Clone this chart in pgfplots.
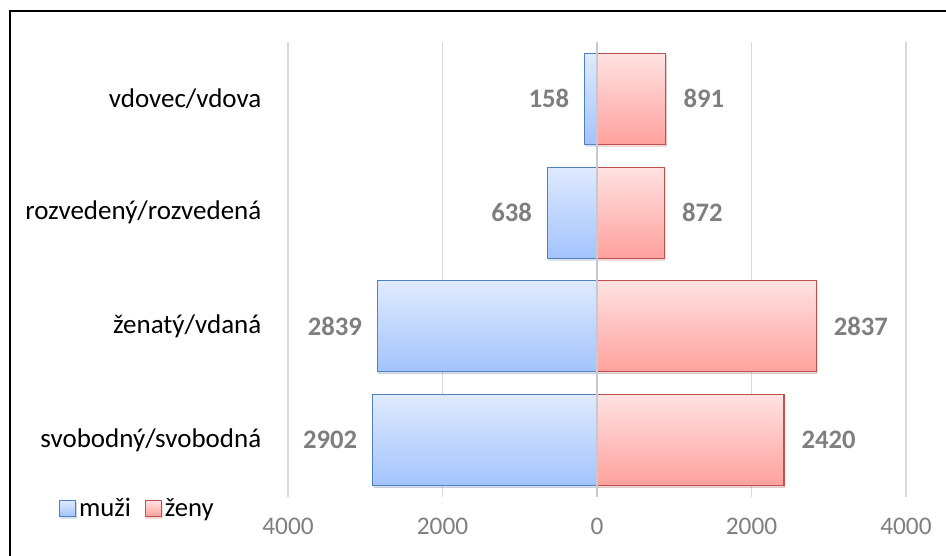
\documentclass[border=0pt]{standalone}
\usepackage{pgfplots}
\pgfplotsset{compat=1.18}
\usetikzlibrary{shadows}
\usepackage{fontspec}
\setmainfont{Carlito}
\definecolor{blueedge}{HTML}{4F81BD}
\definecolor{bluetop}{HTML}{DFEAFE}
\definecolor{bluebot}{HTML}{A3C3FD}
\definecolor{rededge}{HTML}{C0504D}
\definecolor{redtop}{HTML}{FFE2E2}
\definecolor{redbot}{HTML}{FFA19D}
\definecolor{lblgray}{HTML}{7F7F7F}
\definecolor{gridgray}{HTML}{D9D9D9}
\definecolor{zeroline}{HTML}{C4CAD4}
\newcommand{\catfont}{\fontsize{20.25}{24}\selectfont}
\newcommand{\datfont}{\fontsize{20}{24}\selectfont}
\newcommand{\tckfont}{\fontsize{19}{23}\selectfont}
\pgfplotsset{
  mbar/.style={draw=blueedge, line width=0.9pt, top color=bluetop, bottom color=bluebot,
    drop shadow={shadow xshift=0.6pt, shadow yshift=-1.5pt, opacity=0.15, fill=black!70},
    every node near coord/.append style={anchor=east, xshift=-8pt}},
  wbar/.style={draw=rededge, line width=0.9pt, top color=redtop, bottom color=redbot,
    drop shadow={shadow xshift=0.6pt, shadow yshift=-1.5pt, opacity=0.15, fill=black!70},
    every node near coord/.append style={anchor=west, xshift=9.5pt}},
}
\begin{document}
\begin{tikzpicture}[x=0.75pt,y=0.75pt]
\useasboundingbox (0,0) rectangle (946,556);
\draw[line width=1.5pt] (10,-10) -- (10,545) -- (960,545);
\begin{axis}[
  at={(216pt,44.25pt)}, anchor=south west,
  scale only axis, width=463.5pt, height=341.25pt,
  xbar, bar width=0.8, bar shift=0pt,
  xmin=-4000, xmax=4000, ymin=-0.5, ymax=3.5,
  xtick={-4000,-2000,0,2000,4000},
  xticklabels={4000,2000,0,2000,4000},
  ytick={0,1,2,3},
  yticklabels={svobodný/svobodná,ženatý/vdaná,rozvedený/rozvedená,vdovec/vdova},
  xmajorgrids, grid style={gridgray, line width=1.1pt},
  axis line style={draw=none}, major tick length=0pt,
  xticklabel style={font=\tckfont, text=lblgray, yshift=-12.25pt},
  yticklabel style={font=\catfont, text=black, xshift=-16.5pt},
  point meta=explicit symbolic,
  nodes near coords,
  every node near coord/.append style={font=\datfont\bfseries, text=lblgray},
  legend columns=2,
  legend style={at={(-0.3706,-0.025)}, anchor=west, draw=none, fill=none,
    font=\datfont, inner sep=0pt,
    /tikz/every even column/.append style={column sep=8.5pt}},
  legend image code/.code={\draw[#1, drop shadow={opacity=0}] (0pt,-6pt) rectangle (12pt,6pt);},
]
\addplot[mbar] coordinates {(-2902,0) [2902]};
\addlegendentry{muži}
\addplot[wbar] coordinates {(2420,0) [2420]};
\addlegendentry{ženy}
\addplot[mbar, forget plot] coordinates {(-2839,1) [2839]};
\addplot[mbar, forget plot] coordinates {(-638,2) [638]};
\addplot[mbar, forget plot] coordinates {(-158,3) [158]};
\addplot[wbar, forget plot] coordinates {(2837,1) [2837]};
\addplot[wbar, forget plot] coordinates {(872,2) [872]};
\addplot[wbar, forget plot] coordinates {(891,3) [891]};
\draw[zeroline, line width=1pt] (axis cs:0,-0.5) -- (axis cs:0,3.5);
\end{axis}
\end{tikzpicture}
\end{document}
